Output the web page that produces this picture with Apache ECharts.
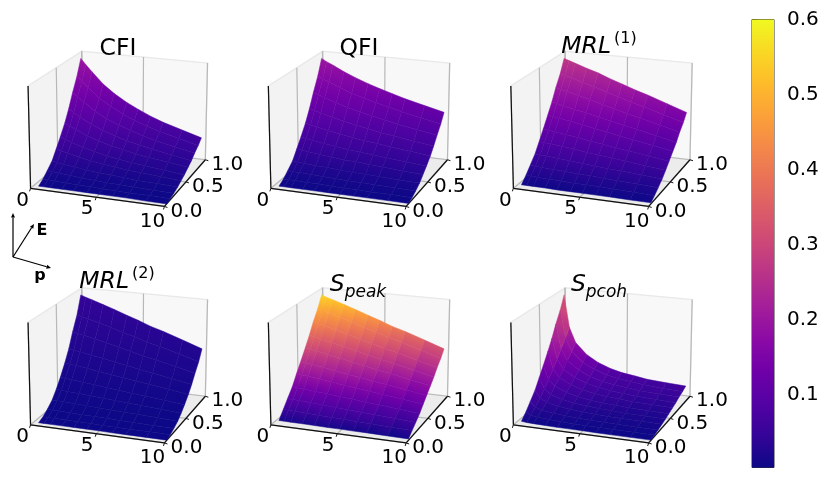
<!DOCTYPE html>
<html>
<head>
<meta charset="utf-8">
<style>html,body{margin:0;padding:0;background:#fff}#chart{width:831px;height:500px}</style>
<script src="https://cdn.jsdelivr.net/npm/echarts@6/dist/echarts.min.js"></script>
</head>
<body>
<div id="chart"></div>
<script>
// sample positions of the surfaces
const pVals = [0.4, 0.8, 1.3, 2.2, 3.1, 4.1, 5, 6, 7, 8.5, 10];
const eVals = [0.05, 0.13, 0.21, 0.3, 0.38, 0.46, 0.55, 0.63, 0.71, 0.8, 0.88];
const pTicks = [0, 5, 10];
const eTicks = [0, 0.5, 1];
const barTicks = [0.1, 0.2, 0.3, 0.4, 0.5, 0.6];

// one row per E, one column per p
const cfi = [
  [.001,.001,.001,.001,.001,.001,.001,.001,.001,.000,.000],
  [.008,.008,.007,.006,.005,.005,.004,.004,.003,.003,.002],
  [.018,.017,.016,.014,.012,.010,.009,.008,.007,.006,.005],
  [.030,.028,.026,.023,.020,.017,.016,.014,.012,.011,.009],
  [.048,.045,.042,.036,.032,.028,.025,.022,.020,.017,.014],
  [.066,.062,.057,.050,.044,.038,.034,.030,.027,.023,.019],
  [.088,.083,.077,.066,.058,.051,.046,.040,.036,.031,.026],
  [.112,.105,.097,.084,.074,.065,.058,.052,.046,.039,.032],
  [.140,.132,.122,.105,.092,.081,.073,.064,.057,.049,.041],
  [.168,.158,.146,.126,.111,.097,.087,.077,.069,.059,.049],
  [.200,.188,.174,.150,.132,.116,.104,.092,.082,.070,.058]
];
const qfi = [
  [.001,.001,.001,.001,.001,.001,.001,.001,.001,.001,.001],
  [.008,.008,.008,.007,.007,.006,.006,.006,.005,.005,.004],
  [.018,.017,.017,.016,.015,.014,.013,.013,.012,.011,.010],
  [.030,.029,.028,.026,.025,.023,.022,.021,.020,.018,.017],
  [.048,.047,.045,.042,.040,.037,.036,.034,.032,.029,.027],
  [.066,.064,.062,.058,.055,.051,.049,.046,.044,.040,.037],
  [.088,.085,.083,.077,.073,.069,.065,.062,.058,.054,.049],
  [.112,.109,.105,.099,.093,.087,.083,.078,.074,.068,.063],
  [.140,.136,.132,.123,.116,.109,.104,.098,.092,.085,.078],
  [.168,.163,.158,.148,.139,.131,.124,.118,.111,.102,.094],
  [.200,.194,.188,.176,.166,.156,.148,.140,.132,.122,.112]
];
const mrl1 = [
  [.005,.005,.005,.005,.004,.004,.004,.004,.004,.003,.003],
  [.021,.021,.020,.019,.018,.017,.017,.016,.015,.013,.012],
  [.039,.038,.037,.036,.034,.032,.031,.029,.027,.025,.022],
  [.060,.059,.058,.055,.053,.050,.047,.044,.042,.038,.034],
  [.086,.084,.083,.079,.076,.071,.068,.064,.060,.054,.048],
  [.112,.110,.108,.103,.099,.093,.088,.083,.078,.071,.063],
  [.142,.139,.136,.131,.125,.118,.112,.105,.099,.089,.080],
  [.170,.167,.163,.156,.150,.141,.134,.126,.119,.107,.095],
  [.203,.199,.195,.187,.179,.168,.160,.150,.142,.128,.114],
  [.234,.229,.225,.215,.206,.194,.185,.173,.164,.147,.131],
  [.270,.265,.259,.248,.238,.224,.213,.200,.189,.170,.151]
];
const mrl2 = [
  [.0002,.0002,.0002,.0002,.0002,.0002,.0002,.0001,.0001,.0001,.0001],
  [.0012,.0012,.0012,.0011,.0011,.0010,.0009,.0009,.0008,.0008,.0007],
  [.0030,.0029,.0029,.0028,.0026,.0025,.0024,.0022,.0021,.0019,.0017],
  [.0055,.0054,.0053,.0051,.0048,.0046,.0043,.0041,.0039,.0035,.0031],
  [.0090,.0088,.0086,.0083,.0079,.0075,.0071,.0067,.0063,.0057,.0050],
  [.0130,.0127,.0125,.0120,.0114,.0108,.0103,.0096,.0091,.0082,.0073],
  [.0182,.0178,.0175,.0167,.0160,.0151,.0144,.0135,.0127,.0115,.0102],
  [.0235,.0230,.0226,.0216,.0207,.0195,.0186,.0174,.0165,.0148,.0132],
  [.0302,.0296,.0290,.0278,.0266,.0251,.0239,.0223,.0211,.0190,.0169],
  [.0368,.0361,.0353,.0339,.0324,.0305,.0291,.0272,.0258,.0232,.0206],
  [.0450,.0441,.0432,.0414,.0396,.0374,.0356,.0333,.0315,.0284,.0252]
];
const speak = [
  [.015,.015,.014,.014,.013,.012,.012,.011,.011,.009,.008],
  [.057,.056,.055,.052,.050,.047,.045,.042,.040,.036,.032],
  [.099,.097,.095,.091,.087,.082,.078,.073,.069,.062,.055],
  [.145,.142,.139,.133,.128,.120,.115,.107,.102,.091,.081],
  [.200,.196,.192,.184,.176,.166,.158,.148,.140,.126,.112],
  [.251,.246,.241,.231,.221,.208,.198,.186,.176,.158,.141],
  [.310,.304,.298,.285,.273,.257,.245,.229,.217,.195,.174],
  [.365,.358,.350,.336,.321,.303,.288,.270,.256,.230,.204],
  [.427,.418,.410,.393,.376,.354,.337,.316,.299,.269,.239],
  [.485,.475,.466,.446,.427,.403,.383,.359,.340,.306,.272],
  [.550,.539,.528,.506,.484,.457,.435,.407,.385,.347,.308]
];
const spcoh = [
  [.007,.005,.004,.003,.002,.002,.002,.001,.001,.001,.001],
  [.028,.018,.014,.011,.009,.007,.006,.006,.005,.005,.005],
  [.054,.036,.027,.021,.017,.014,.012,.011,.010,.009,.009],
  [.083,.055,.042,.032,.026,.022,.019,.017,.016,.015,.014],
  [.118,.078,.059,.045,.037,.031,.027,.025,.022,.021,.019],
  [.153,.101,.077,.058,.047,.040,.035,.032,.029,.027,.025],
  [.194,.128,.097,.074,.060,.050,.045,.041,.037,.034,.032],
  [.233,.154,.117,.089,.072,.061,.054,.049,.044,.041,.038],
  [.278,.183,.139,.106,.086,.072,.064,.058,.053,.049,.046],
  [.321,.212,.161,.122,.100,.083,.074,.067,.061,.056,.053],
  [.370,.244,.185,.141,.115,.096,.085,.078,.070,.065,.061]
];

const plasma = ['#0d0887','#350498','#5302a3','#6f00a8','#8b0aa5','#a31e9a','#b83289','#cc4778','#db5c68','#e97158','#f48849','#fba139','#febb2a','#f9d824','#f0f921'];
const barMin = 0.003, barMax = 0.6;

const font = '"DejaVu Sans"';
const deg = Math.PI / 180;
const elev = 18 * deg, azim = -70 * deg, dist = 10;
const boxSize = [1.143, 1.143, 0.857];
const scale = 122;

const panels = [
  { z: cfi, cx: 119.5, cy: 124.5, title: 'CFI', tx: 113, ty: 44 },
  { z: qfi, cx: 362, cy: 124.5, title: 'QFI', tx: 354, ty: 44 },
  { z: mrl1, cx: 604.5, cy: 124.5, title: '{i|MRL}{s|(1)}', tx: 594, ty: 42 },
  { z: mrl2, cx: 119.5, cy: 361, title: '{i|MRL}{s|(2)}', tx: 112, ty: 277 },
  { z: speak, cx: 362, cy: 361, title: '{i|S}{b|peak}', tx: 353, ty: 280 },
  { z: spcoh, cx: 604.5, cy: 361, title: '{i|S}{b|pcoh}', tx: 594, ty: 280 }
];

// camera, same idea as a mplot3d view
function project(x, y, z) {
  const a = (x - 0.5) * boxSize[0], b = (y - 0.5) * boxSize[1], c = (z - 0.5) * boxSize[2];
  const ce = Math.cos(elev), se = Math.sin(elev), ca = Math.cos(azim), sa = Math.sin(azim);
  const d = a * ce * ca + b * ce * sa + c * se;
  const s = dist / (dist - d);
  return { xy: [(-a * sa + b * ca) * s, (-a * se * ca - b * se * sa + c * ce) * s], depth: d };
}

function colorOf(v) {
  const t = Math.min(1, Math.max(0, (v - barMin) / (barMax - barMin)));
  return echarts.color.lerp(t, plasma);
}

function frameSeries(idx) {
  const renderItem = (params, api) => {
    const pt = (x, y, z) => api.coord(project(x, y, z).xy);
    const poly = (pts, fill) => ({ type: 'polygon', shape: { points: pts }, style: { fill: fill, stroke: '#e9e9e9', lineWidth: 1.5 } });
    const line = (a, b, color, w) => ({
      type: 'line', shape: { x1: a[0], y1: a[1], x2: b[0], y2: b[1] },
      style: { stroke: color, lineWidth: w, fill: null }
    });
    const children = [
      poly([pt(0,0,0), pt(0,1,0), pt(0,1,1), pt(0,0,1)], '#f3f3f3'),
      poly([pt(0,1,0), pt(1,1,0), pt(1,1,1), pt(0,1,1)], '#f8f8f8'),
      poly([pt(0,0,0), pt(1,0,0), pt(1,1,0), pt(0,1,0)], '#ececec')
    ];
    const grey = '#b8b8b8';
    pTicks.forEach(t => {
      const x = t / 10;
      children.push(line(pt(x,0,0), pt(x,1,0), grey, 1.2));
      children.push(line(pt(x,1,0), pt(x,1,1), grey, 1.2));
    });
    eTicks.forEach(y => {
      children.push(line(pt(0,y,0), pt(1,y,0), grey, 1.2));
      children.push(line(pt(0,y,0), pt(0,y,1), grey, 1.2));
    });
    children.push(line(pt(0,0,0), pt(1,0,0), '#111', 1.2));
    children.push(line(pt(1,0,0), pt(1,1,0), '#111', 1.2));
    children.push(line(pt(0,0,0), pt(0,0,1), '#111', 1.2));
    const label = (pos, text) => ({
      type: 'text',
      style: { x: pos[0], y: pos[1], text: text, fill: '#000', font: '20px ' + font, textAlign: 'center', textVerticalAlign: 'middle' }
    });
    pTicks.forEach(t => {
      const c = pt(t / 10, 0, 0);
      children.push(line(c, [c[0] - 1, c[1] + 3], '#111', 1));
      children.push(label([c[0] - (t === 10 ? 12 : t === 0 ? 8 : 9), c[1] + (t === 10 ? 15 : 12)], String(t)));
    });
    eTicks.forEach(t => {
      const c = pt(1, t, 0);
      children.push(line(c, [c[0] + 3, c[1] + 1], '#111', 1));
      children.push(label([c[0] + 22, c[1] + 5], t.toFixed(1)));
    });
    return { type: 'group', children: children };
  };
  return { type: 'custom', xAxisIndex: idx, yAxisIndex: idx, silent: true, z: 1, data: [[0, 0]], renderItem: renderItem };
}

function surfaceSeries(idx, z) {
  let top = 0;
  z.forEach(row => row.forEach(v => { top = Math.max(top, v); }));
  top *= 1.03;
  const at = (i, j) => project(pVals[j] / 10, eVals[i], z[i][j] / top);
  const cells = [];
  for (let i = 0; i < eVals.length - 1; i++) {
    for (let j = 0; j < pVals.length - 1; j++) {
      cells.push({ value: [i, j], depth: at(i, j).depth + at(i + 1, j + 1).depth });
    }
  }
  cells.sort((a, b) => a.depth - b.depth);
  return {
    type: 'custom', xAxisIndex: idx, yAxisIndex: idx, silent: true, z: 2,
    data: cells.map(c => c.value),
    renderItem: (params, api) => {
      const i = api.value(0), j = api.value(1);
      const p00 = api.coord(at(i, j).xy), p01 = api.coord(at(i, j + 1).xy);
      const p11 = api.coord(at(i + 1, j + 1).xy), p10 = api.coord(at(i + 1, j).xy);
      // colour runs from the lower E edge of the cell to the upper one
      const fill = new echarts.graphic.LinearGradient(
        (p00[0] + p01[0]) / 2, (p00[1] + p01[1]) / 2,
        (p10[0] + p11[0]) / 2, (p10[1] + p11[1]) / 2,
        [
          { offset: 0, color: colorOf((z[i][j] + z[i][j + 1]) / 2) },
          { offset: 1, color: colorOf((z[i + 1][j] + z[i + 1][j + 1]) / 2) }
        ], true);
      return { type: 'polygon', shape: { points: [p00, p01, p11, p10] }, style: { fill: fill, stroke: fill, lineWidth: 0.5 } };
    }
  };
}

const grids = [], xAxes = [], yAxes = [], series = [], titles = [];
panels.forEach((pn, idx) => {
  grids.push({ left: pn.cx - scale, top: pn.cy - scale, width: 2 * scale, height: 2 * scale });
  xAxes.push({ type: 'value', gridIndex: idx, min: -1, max: 1, show: false });
  yAxes.push({ type: 'value', gridIndex: idx, min: -1, max: 1, show: false });
  series.push(frameSeries(idx), surfaceSeries(idx, pn.z));
  titles.push({
    text: pn.title, left: pn.tx, top: pn.ty, textAlign: 'center', textVerticalAlign: 'middle', z: 5,
    textStyle: {
      fontFamily: font, fontSize: 23.5, fontWeight: 'normal', color: '#000', lineHeight: 32,
      rich: {
        i: { fontFamily: font, fontStyle: 'italic', fontSize: 23.5, lineHeight: 32, color: '#000' },
        s: { fontFamily: font, fontSize: 16, lineHeight: 32, verticalAlign: 'top', color: '#000', padding: [0, 0, 0, 3] },
        b: { fontFamily: font, fontStyle: 'italic', fontSize: 17, lineHeight: 32, verticalAlign: 'bottom', color: '#000' }
      }
    }
  });
});

// colour bar
const barIdx = panels.length;
grids.push({ left: 752, top: 19.5, width: 22, height: 448, show: true, backgroundColor: 'transparent', borderColor: '#333', borderWidth: 1 });
xAxes.push({ type: 'value', gridIndex: barIdx, min: 0, max: 1, show: false });
yAxes.push({
  type: 'value', gridIndex: barIdx, position: 'right', min: barMin, max: barMax,
  axisLine: { show: false }, splitLine: { show: false },
  axisTick: { show: true, length: 5, lineStyle: { color: '#111' }, customValues: barTicks },
  axisLabel: {
    color: '#000', fontFamily: font, fontSize: 20, margin: 13, customValues: barTicks,
    formatter: v => v.toFixed(1)
  }
});
series.push({
  type: 'custom', xAxisIndex: barIdx, yAxisIndex: barIdx, silent: true, z: 1, data: [[0, barMin, 1, barMax]],
  renderItem: (params, api) => {
    const a = api.coord([api.value(0), api.value(1)]), b = api.coord([api.value(2), api.value(3)]);
    return {
      type: 'rect', shape: { x: a[0], y: b[1], width: b[0] - a[0], height: a[1] - b[1] },
      style: {
        fill: new echarts.graphic.LinearGradient(0, 1, 0, 0, plasma.map((c, i) => ({ offset: i / (plasma.length - 1), color: c })))
      }
    };
  }
});

// direction key on the left
const arrow = (x1, y1, x2, y2) => {
  const ang = Math.atan2(y2 - y1, x2 - x1), h = 4.5, w = 2;
  const bx = x2 - h * Math.cos(ang), by = y2 - h * Math.sin(ang);
  return [
    { type: 'line', shape: { x1, y1, x2: bx, y2: by }, style: { stroke: '#000', lineWidth: 1.2 } },
    { type: 'polygon', shape: { points: [[x2, y2], [bx - w * Math.sin(ang), by + w * Math.cos(ang)], [bx + w * Math.sin(ang), by - w * Math.cos(ang)]] }, style: { fill: '#000' } }
  ];
};
const keyText = (x, y, text) => ({
  type: 'text', x: x, y: y,
  style: { text: text, fill: '#000', font: 'bold 16px ' + font, textAlign: 'center', textVerticalAlign: 'middle' }
});

const chart = echarts.init(document.getElementById('chart'), null, { renderer: 'canvas' });
chart.setOption({
  animation: false,
  backgroundColor: '#fff',
  title: titles,
  grid: grids,
  xAxis: xAxes,
  yAxis: yAxes,
  series: series,
  graphic: [].concat(
    arrow(13, 257, 13, 213), arrow(13, 257, 34, 224), arrow(13, 257, 51, 268),
    [keyText(42, 231, 'E'), keyText(40, 276, 'p')]
  )
});
</script>
</body>
</html>
